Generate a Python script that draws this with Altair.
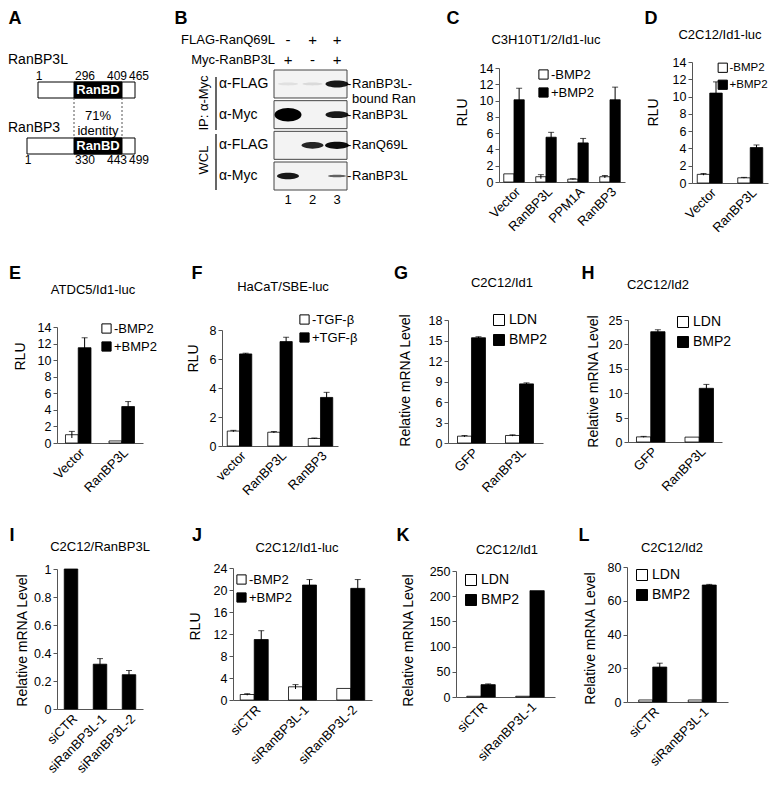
import altair as alt
import pandas as pd

FONT = "Liberation Sans"
AX = "#555555"
OX, OY = 8, 8          # page margin: reference pixel -> view pixel
VW, VH = 761, 770


def X(v):
    return v - OX


def Y(v):
    return v - OY


# ---------------- Panel A : domain diagram ----------------
a_proteins = ["RanBP3L", "RanBP3"]
a_length = [465, 499]
a_rbd_start = [296, 330]
a_rbd_end = [409, 443]
a_domain_name = "RanBD"
a_identity = "71%\nidentity"

# ---------------- Panel B : blot ----------------
b_lanes = [1, 2, 3]
b_treat_names = ["FLAG-RanQ69L", "Myc-RanBP3L"]
b_flag = ["-", "+", "+"]
b_myc = ["+", "-", "+"]
b_blots = ["IP FLAG", "IP Myc", "WCL FLAG", "WCL Myc"]
b_antibody = ["α-FLAG", "α-Myc", "α-FLAG", "α-Myc"]
b_right = ["RanBP3L-\nbound Ran", "RanBP3L", "RanQ69L", "RanBP3L"]
b_groups = ["IP: α-Myc", "WCL"]
b_intensity = [[0.08, 0.1, 0.9], [1.0, 0.0, 0.9], [0.0, 0.85, 0.95], [0.9, 0.0, 0.6]]
b_bandwidth = [[20, 20, 23], [27, 0, 23], [0, 22, 24], [22, 0, 18]]
b_kind = [["thin", "thin", "band"], ["blob", "band", "band"],
          ["band", "band", "band"], ["band", "band", "thin"]]

# ---------------- Bar panels ----------------
c_cats = ["Vector", "RanBP3L", "PPM1A", "RanBP3"]
c_minus = [1.0, 0.65, 0.35, 0.65]
c_minus_err = [0.0, 0.25, 0.05, 0.15]
c_plus = [10.1, 5.5, 4.8, 10.1]
c_plus_err = [1.4, 0.6, 0.55, 1.55]

d_cats = ["Vector", "RanBP3L"]
d_minus = [1.0, 0.6]
d_minus_err = [0.1, 0.05]
d_plus = [10.4, 4.1]
d_plus_err = [1.3, 0.3]

e_cats = ["Vector", "RanBP3L"]
e_minus = [1.0, 0.25]
e_minus_err = [0.4, 0.0]
e_plus = [11.5, 4.4]
e_plus_err = [1.2, 0.6]

f_cats = ["vector", "RanBP3L", "RanBP3"]
f_minus = [1.03, 0.95, 0.52]
f_minus_err = [0.05, 0.05, 0.03]
f_plus = [6.35, 7.2, 3.35]
f_plus_err = [0.05, 0.3, 0.35]

g_cats = ["GFP", "RanBP3L"]
g_minus = [1.0, 1.1]
g_minus_err = [0.1, 0.1]
g_plus = [15.4, 8.65]
g_plus_err = [0.15, 0.15]

h_cats = ["GFP", "RanBP3L"]
h_minus = [1.05, 1.0]
h_minus_err = [0.1, 0.0]
h_plus = [22.6, 11.0]
h_plus_err = [0.4, 0.8]

i_cats = ["siCTR", "siRanBP3L-1", "siRanBP3L-2"]
i_vals = [1.0, 0.32, 0.245]
i_err = [0.0, 0.04, 0.03]

j_cats = ["siCTR", "siRanBP3L-1", "siRanBP3L-2"]
j_minus = [1.0, 2.4, 2.1]
j_minus_err = [0.15, 0.4, 0.0]
j_plus = [11.0, 20.9, 20.3]
j_plus_err = [1.6, 1.0, 1.6]

k_cats = ["siCTR", "siRanBP3L-1"]
k_minus = [1.5, 1.5]
k_minus_err = [0.0, 0.0]
k_plus = [24.5, 211.0]
k_plus_err = [1.5, 0.0]

l_cats = ["siCTR", "siRanBP3L-1"]
l_minus = [1.2, 1.2]
l_minus_err = [0.0, 0.0]
l_plus = [20.7, 69.3]
l_plus_err = [2.3, 0.4]

bmp_conds = ["-BMP2", "+BMP2"]
tgf_conds = ["-TGF-β", "+TGF-β"]
ldn_conds = ["LDN", "BMP2"]

ticks_14 = [0, 2, 4, 6, 8, 10, 12, 14]
ticks_8 = [0, 2, 4, 6, 8]
ticks_18 = [0, 3, 6, 9, 12, 15, 18]
ticks_25 = [0, 5, 10, 15, 20, 25]
ticks_1 = [0, 0.2, 0.4, 0.6, 0.8, 1]
ticks_24 = [0, 4, 8, 12, 16, 20, 24]
ticks_250 = [0, 50, 100, 150, 200, 250]
ticks_80 = [0, 20, 40, 60, 80]

panel_titles = {"C": "C3H10T1/2/Id1-luc", "D": "C2C12/Id1-luc", "E": "ATDC5/Id1-luc",
                "F": "HaCaT/SBE-luc", "G": "C2C12/Id1", "H": "C2C12/Id2",
                "I": "C2C12/RanBP3L", "J": "C2C12/Id1-luc", "K": "C2C12/Id1", "L": "C2C12/Id2"}
rlu = "RLU"
mrna = "Relative mRNA Level"


def txt(t, x, y, size=13, weight="normal", align="center", baseline="middle",
        angle=None, color="black", lineBreak=None):
    kw = dict(font=FONT, fontSize=size, fontWeight=weight, align=align,
              baseline=baseline, color=color)
    if angle is not None:
        kw["angle"] = angle
    if lineBreak is not None:
        kw["lineBreak"] = lineBreak
    return alt.Chart(pd.DataFrame({"t": [t]})).mark_text(**kw).encode(
        text="t:N", x=alt.value(X(x)), y=alt.value(Y(y)))


def bar_panel(cats, conds, series, errs, ticks, ytitle, rect, pi, po,
              legend_xy, title, title_xy, letter, letter_xy, ytitle_xy,
              legend_big=False, legend_font=None):
    x0, y0, x1, y1 = rect
    rows = []
    for ci, cond in enumerate(conds):
        for i, cat in enumerate(cats):
            rows.append({"cat": cat, "cond": cond, "v": series[ci][i], "e": errs[ci][i]})
    df = pd.DataFrame(rows)
    df["hi"] = df["v"] + df["e"]
    df["lo"] = (df["v"] - df["e"]).clip(lower=0)

    xenc = alt.X("cat:N", sort=cats,
                 scale=alt.Scale(domain=cats, range=[X(x0), X(x1)],
                                 paddingInner=pi, paddingOuter=po),
                 axis=alt.Axis(title=None, orient="bottom", offset=Y(y1) - VH,
                               labelAngle=315, ticks=False, domainColor=AX,
                               domainWidth=1, labelFont=FONT, labelFontSize=13,
                               labelColor="black", labelAlign="right",
                               labelBaseline="top", labelPadding=3, labelOverlap=False,
                               labelBound=False, grid=False))
    xoff = alt.XOffset("cond:N", sort=conds,
                       scale=alt.Scale(domain=conds, paddingInner=0, paddingOuter=0))
    yscale = alt.Scale(domain=[0, ticks[-1]], range=[Y(y1), Y(y0)], nice=False)
    yaxis = alt.Axis(title=ytitle, orient="left", offset=-X(x0), values=ticks,
                     format="~f", tickSize=4, tickColor=AX,
                     domainColor=AX, labelFont=FONT, labelFontSize=12.5,
                     labelColor="black", labelPadding=2, grid=False, titleFont=FONT,
                     titleFontSize=14, titleFontWeight="normal", titleColor="black",
                     titleAngle=270, titleX=ytitle_xy[0] - x0, titleY=Y(ytitle_xy[1]),
                     titleAlign="center", titleBaseline="middle")
    if legend_xy is None:
        leg = None
        fill_range = ["black"]
    else:
        lf = legend_font if legend_font else (14 if legend_big else 13)
        leg = alt.Legend(orient="none", legendX=X(legend_xy[0]), legendY=Y(legend_xy[1]),
                         title=None, symbolType="square",
                         symbolSize=121 if legend_big else 85,
                         symbolStrokeColor="black", symbolStrokeWidth=1,
                         labelFont=FONT, labelFontSize=lf,
                         labelColor="black", labelOffset=3 if legend_big else 1,
                         rowPadding=4 if legend_big else 3, padding=0, symbolOpacity=1)
        fill_range = ["white", "black"]
    bars = alt.Chart(df).mark_bar(stroke="black", strokeWidth=0.8).encode(
        x=xenc, xOffset=xoff,
        y=alt.Y("v:Q", scale=yscale, axis=yaxis),
        fill=alt.Fill("cond:N", sort=conds,
                      scale=alt.Scale(domain=conds, range=fill_range), legend=leg))
    layers = [bars]
    edf = df[df["e"] > 0]
    if len(edf):
        layers.append(alt.Chart(edf).mark_rule(color="black", strokeWidth=1).encode(
            x=xenc, xOffset=xoff, y=alt.Y("lo:Q", scale=yscale, axis=yaxis), y2="hi:Q"))
        layers.append(alt.Chart(edf).mark_tick(color="black", thickness=1, size=6).encode(
            x=xenc, xOffset=xoff, y=alt.Y("hi:Q", scale=yscale, axis=yaxis)))
    layers.append(txt(title, title_xy[0], title_xy[1], size=13))
    layers.append(txt(letter, letter_xy[0], letter_xy[1], size=18, weight="bold"))
    return alt.layer(*layers)


# ---------------- Panel A build ----------------
a_rows = []
for p, L, s, e in zip(a_proteins, a_length, a_rbd_start, a_rbd_end):
    a_rows.append({"protein": p, "start": 1 - s, "end": L - s, "rs": 0, "re": e - s,
                   "rmid": (e - s) / 2, "name": a_domain_name})
a_df = pd.DataFrame(a_rows)
a_lab = []
for p, L, s, e in zip(a_proteins, a_length, a_rbd_start, a_rbd_end):
    for res, kind in [(1, "one"), (s, "start"), (e, "end"), (L, "len")]:
        a_lab.append({"protein": p, "pos": res - s, "lab": str(res), "kind": kind})
a_lab = pd.DataFrame(a_lab)
a_lab_style = {"one": ("center", 1), "start": ("left", 1), "end": ("right", 5), "len": ("left", -6)}

a_x = alt.Scale(domain=[-329, -295, 0, 113, 169],
                range=[X(27), X(38), X(74), X(122), X(135)])
a_y = alt.Scale(domain=a_proteins, range=[Y(82), Y(154)], paddingInner=0.714, paddingOuter=0)
AX_ = alt.X("start:Q", scale=a_x, axis=None)
AY_ = alt.Y("protein:N", scale=a_y, axis=None, sort=a_proteins)

a_layers = [
    alt.Chart(a_df).mark_bar(fill="white", stroke="black", strokeWidth=1).encode(
        x=AX_, x2="end:Q", y=AY_),
    alt.Chart(a_df).mark_bar(fill="black", stroke="black").encode(
        x=alt.X("rs:Q", scale=a_x, axis=None), x2="re:Q", y=AY_),
    alt.Chart(a_df).mark_text(color="white", font=FONT, fontWeight="bold", fontSize=13).encode(
        x=alt.X("rmid:Q", scale=a_x, axis=None), y=AY_, text="name:N"),
]
for p, dy in zip(a_proteins, [-14, 14]):
    for kind, (align, dx) in a_lab_style.items():
        sub = a_lab[(a_lab.protein == p) & (a_lab.kind == kind)]
        a_layers.append(alt.Chart(sub).mark_text(font=FONT, fontSize=12, align=align,
                                                 dy=dy, dx=dx, color="black").encode(
            x=alt.X("pos:Q", scale=a_x, axis=None), y=AY_, text="lab:N"))
for p, dy in zip(a_proteins, [-30, -18]):
    a_layers.append(alt.Chart(a_df[a_df.protein == p]).mark_text(
        font=FONT, fontSize=14, align="left", dy=dy, color="black").encode(
        x=alt.value(X(8)), y=AY_, text="protein:N"))
a_layers.append(alt.Chart(pd.DataFrame({"pos": [0, a_rbd_end[0] - a_rbd_start[0]]})).mark_rule(
    color="#555", strokeDash=[2, 2], strokeWidth=1).encode(
    x=alt.X("pos:Q", scale=a_x, axis=None), y=alt.value(Y(98)), y2=alt.value(Y(138))))
a_layers.append(alt.Chart(pd.DataFrame({"t": [a_identity],
                                        "pos": [(a_rbd_end[0] - a_rbd_start[0]) / 2]})).mark_text(
    font=FONT, fontSize=13, lineBreak="\n", color="black").encode(
    x=alt.X("pos:Q", scale=a_x, axis=None), y=alt.value(Y(115.5)), text="t:N"))
a_layers.append(txt("A", 15, 19, size=18, weight="bold"))
panelA = alt.layer(*a_layers)

# ---------------- Panel B build ----------------
P_BLOB = "M-1,0A1,0.5,0,1,1,1,0A1,0.5,0,1,1,-1,0Z"
P_BAND = "M-1,0A1,0.3,0,1,1,1,0A1,0.3,0,1,1,-1,0Z"
P_THIN = "M-1,0A1,0.14,0,1,1,1,0A1,0.14,0,1,1,-1,0Z"
b_rows = []
for bi, blot in enumerate(b_blots):
    for li, lane in enumerate(b_lanes):
        if b_intensity[bi][li] > 0:
            b_rows.append({"blot": blot, "lane": lane, "op": b_intensity[bi][li],
                           "sz": b_bandwidth[bi][li] ** 2, "kind": b_kind[bi][li]})
b_df = pd.DataFrame(b_rows)
b_info = pd.DataFrame({"blot": b_blots, "ab": b_antibody, "right": b_right,
                       "dash": ["-"] * len(b_blots)})
bx = alt.Scale(type="point", domain=b_lanes, range=[X(288), X(337)], padding=0)
by = alt.Scale(domain=b_blots, range=[Y(70), Y(190)], paddingInner=0.087, paddingOuter=0)
BY_ = alt.Y("blot:N", scale=by, axis=None, sort=b_blots)
BX_ = alt.X("lane:O", scale=bx, axis=None)
b_layers = [
    alt.Chart(b_info).mark_rect(fill="#f3f3f3", stroke="#444", strokeWidth=1).encode(
        y=BY_, x=alt.value(X(274)), x2=alt.value(X(347))),
    alt.Chart(b_df).mark_point(filled=True, color="black", strokeWidth=0).encode(
        x=BX_, y=BY_, size=alt.Size("sz:Q", scale=None, legend=None),
        opacity=alt.Opacity("op:Q", scale=None, legend=None),
        shape=alt.Shape("kind:N", scale=alt.Scale(domain=["blob", "band", "thin"],
                                                  range=[P_BLOB, P_BAND, P_THIN]),
                        legend=None)),
    alt.Chart(b_info).mark_text(font=FONT, fontSize=14, align="left", color="black").encode(
        y=BY_, x=alt.value(X(219)), text="ab:N"),
    alt.Chart(b_info).mark_text(font=FONT, fontSize=13, align="left", color="black").encode(
        y=BY_, x=alt.value(X(347)), text="dash:N"),
    alt.Chart(b_info).mark_text(font=FONT, fontSize=13, align="left", color="black",
                                lineBreak="\n").encode(
        y=BY_, x=alt.value(X(352)), text="right:N"),
]
sign_df = pd.DataFrame({"lane": b_lanes, "flag": b_flag, "myc": b_myc,
                        "num": [str(v) for v in b_lanes]})
for field, yv, sz in [("flag", 40, 15), ("myc", 60, 15), ("num", 200, 13)]:
    b_layers.append(alt.Chart(sign_df).mark_text(font=FONT, fontSize=sz, color="black").encode(
        x=BX_, y=alt.value(Y(yv)), text=f"{field}:N"))
b_layers.append(txt(b_treat_names[0], 275, 40, size=13, align="right"))
b_layers.append(txt(b_treat_names[1], 275, 60, size=13, align="right"))
b_layers.append(alt.Chart(pd.DataFrame({"a": [1]})).mark_rule(color="black", strokeWidth=1.2).encode(
    x=alt.value(X(216)), y=alt.value(Y(77)), y2=alt.value(Y(130))))
b_layers.append(alt.Chart(pd.DataFrame({"a": [1]})).mark_rule(color="black", strokeWidth=1.2).encode(
    x=alt.value(X(216)), y=alt.value(Y(134)), y2=alt.value(Y(190))))
b_layers.append(txt(b_groups[0], 204, 103, size=13, angle=270))
b_layers.append(txt(b_groups[1], 204, 160, size=13, angle=270))
b_layers.append(txt("B", 181, 19, size=18, weight="bold"))
panelB = alt.layer(*b_layers)

# ---------------- Bar panels build ----------------
panelC = bar_panel(c_cats, bmp_conds, [c_minus, c_plus], [c_minus_err, c_plus_err], ticks_14,
                   rlu, (499, 68, 625, 182), 0.36, 0.149, (537, 68), panel_titles["C"],
                   (546, 40), "C", (453, 19), (462, 112))
panelD = bar_panel(d_cats, bmp_conds, [d_minus, d_plus], [d_minus_err, d_plus_err], ticks_14,
                   rlu, (692, 62, 768, 183), 0.383, 0.13, (717, 62), panel_titles["D"],
                   (720, 35), "D", (651, 19), (653, 112), legend_font=11.5)
panelE = bar_panel(e_cats, bmp_conds, [e_minus, e_plus], [e_minus_err, e_plus_err], ticks_14,
                   rlu, (57, 327, 143, 443), 0.414, 0.195, (100, 322), panel_titles["E"],
                   (93, 290), "E", (15, 274), (20, 356))
panelF = bar_panel(f_cats, tgf_conds, [f_minus, f_plus], [f_minus_err, f_plus_err], ticks_8,
                   rlu, (222, 330, 338, 446), 0.395, 0.13, (298, 313), panel_titles["F"],
                   (283, 287), "F", (197, 274), (193, 358))
panelG = bar_panel(g_cats, ldn_conds, [g_minus, g_plus], [g_minus_err, g_plus_err], ticks_18,
                   mrna, (448, 320, 543, 443), 0.417, 0.198, (492, 313), panel_titles["G"],
                   (502, 283), "G", (401, 274), (405, 380), legend_big=True)
panelH = bar_panel(h_cats, ldn_conds, [h_minus, h_plus], [h_minus_err, h_plus_err], ticks_25,
                   mrna, (628, 320, 722, 442), 0.412, 0.175, (676, 315), panel_titles["H"],
                   (658, 285), "H", (588, 274), (593, 381), legend_big=True)
panelI = bar_panel(i_cats, ["siRNA"], [i_vals], [i_err], ticks_1,
                   mrna, (57, 569, 143, 709), 0.534, 0.25, None, panel_titles["I"],
                   (100, 547), "I", (12, 536), (22, 640))
panelJ = bar_panel(j_cats, bmp_conds, [j_minus, j_plus], [j_minus_err, j_plus_err], ticks_24,
                   rlu, (233, 568, 372, 700), 0.42, 0.15, (235, 573), panel_titles["J"],
                   (297, 548), "J", (197, 536), (195, 626))
panelK = bar_panel(k_cats, ldn_conds, [k_minus, k_plus], [k_minus_err, k_plus_err], ticks_250,
                   mrna, (456, 571, 555, 697), 0.418, 0.22, (464, 573), panel_titles["K"],
                   (507, 550), "K", (403, 536), (408, 640), legend_big=True)
panelL = bar_panel(l_cats, ldn_conds, [l_minus, l_plus], [l_minus_err, l_plus_err], ticks_80,
                   mrna, (627, 567, 728, 702), 0.434, 0.237, (635, 568), panel_titles["L"],
                   (672, 548), "L", (584, 536), (590, 638), legend_big=True)

chart = alt.layer(
    panelA, panelB, panelC, panelD, panelE, panelF, panelG, panelH,
    panelI, panelJ, panelK, panelL,
).resolve_scale(
    x="independent", y="independent", fill="independent", xOffset="independent",
    shape="independent", size="independent", opacity="independent",
).resolve_axis(x="independent", y="independent").resolve_legend(
    fill="independent"
).properties(
    width=VW, height=VH, padding=0, background="white",
    autosize=alt.AutoSizeParams(type="none"),
).configure_view(stroke=None)

chart.save("out.html", embed_options={"renderer": "svg", "actions": False})
